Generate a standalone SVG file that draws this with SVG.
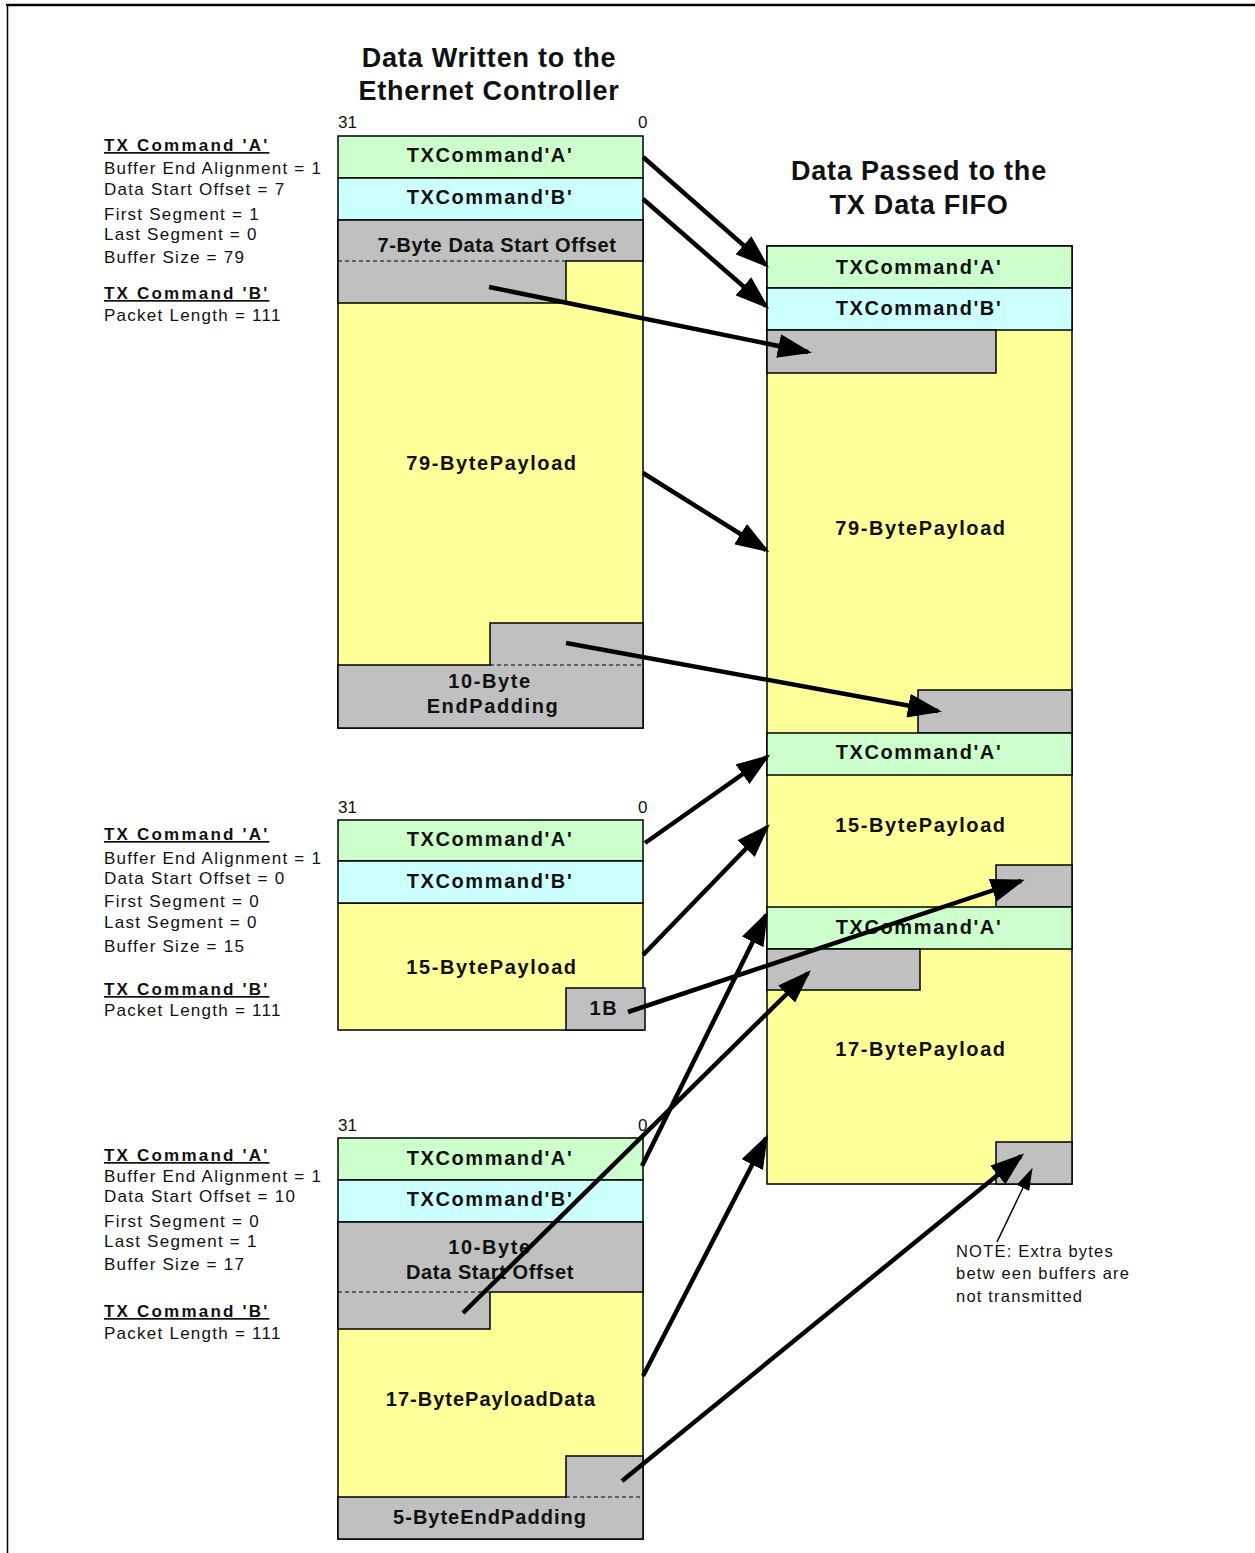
<svg xmlns="http://www.w3.org/2000/svg" width="1255" height="1553" viewBox="0 0 1255 1553">
<style>
.g{fill:#CCFFCC;stroke:#000;stroke-width:1.5}
.c{fill:#CCFFFF;stroke:#000;stroke-width:1.5}
.y{fill:#FFFF99;stroke:#000;stroke-width:1.5}
.s{fill:#C0C0C0;stroke:#000;stroke-width:1.5}
.d{stroke:#000;stroke-width:1;stroke-dasharray:4,3;fill:none}
.lbl{font-family:"Liberation Sans",Arial,sans-serif;font-weight:bold;font-size:20px;text-anchor:middle;fill:#111;letter-spacing:1.6px}
.ttl{font-family:"Liberation Sans",Arial,sans-serif;font-weight:bold;font-size:27px;text-anchor:middle;fill:#111;letter-spacing:0.8px}
.info{font-family:"Liberation Sans",Arial,sans-serif;font-size:17px;fill:#111;letter-spacing:1.25px}
.hd{font-family:"Liberation Sans",Arial,sans-serif;font-size:17px;font-weight:bold;fill:#111;text-decoration:underline;letter-spacing:2.2px}
.bit{font-family:"Liberation Sans",Arial,sans-serif;font-size:17px;fill:#111}
.note{font-family:"Liberation Sans",Arial,sans-serif;font-size:16.5px;fill:#111;letter-spacing:1.2px}
.arr{stroke:#000;stroke-width:4.5;fill:none;marker-end:url(#ah)}
</style>
<defs>
<marker id="ah" markerUnits="userSpaceOnUse" viewBox="0 0 34 24" markerWidth="34" markerHeight="24" refX="30" refY="12" orient="auto">
<path d="M0,0 L34,12 L0,24 z" fill="#000"/>
</marker>
<marker id="ahs" markerUnits="userSpaceOnUse" viewBox="0 0 22 14" markerWidth="22" markerHeight="14" refX="21" refY="7" orient="auto">
<path d="M0,0 L22,7 L0,14 z" fill="#000"/>
</marker>
</defs>
<rect width="1255" height="1553" fill="#fff"/>
<g id="frame">
<line x1="6" y1="5" x2="1255" y2="5" stroke="#000" stroke-width="2.5"/>
<line x1="7.5" y1="4" x2="7.5" y2="1553" stroke="#000" stroke-width="1.5"/>
</g>
<g id="titles">
<text class="ttl" x="489" y="67">Data Written to the</text>
<text class="ttl" x="489" y="100">Ethernet Controller</text>
<text class="ttl" x="919" y="180">Data Passed to the</text>
<text class="ttl" x="919" y="214">TX Data FIFO</text>
</g>
<g id="info1">
<text class="hd" x="104" y="151">TX Command 'A'</text>
<text class="info" x="104" y="174">Buffer End Alignment = 1</text>
<text class="info" x="104" y="195">Data Start Offset = 7</text>
<text class="info" x="104" y="220">First Segment = 1</text>
<text class="info" x="104" y="240">Last Segment = 0</text>
<text class="info" x="104" y="263">Buffer Size = 79</text>
<text class="hd" x="104" y="299">TX Command 'B'</text>
<text class="info" x="104" y="321">Packet Length = 111</text>
</g>
<g id="info2">
<text class="hd" x="104" y="840">TX Command 'A'</text>
<text class="info" x="104" y="864">Buffer End Alignment = 1</text>
<text class="info" x="104" y="884">Data Start Offset = 0</text>
<text class="info" x="104" y="907">First Segment = 0</text>
<text class="info" x="104" y="928">Last Segment = 0</text>
<text class="info" x="104" y="952">Buffer Size = 15</text>
<text class="hd" x="104" y="995">TX Command 'B'</text>
<text class="info" x="104" y="1016">Packet Length = 111</text>
</g>
<g id="info3">
<text class="hd" x="104" y="1161">TX Command 'A'</text>
<text class="info" x="104" y="1182">Buffer End Alignment = 1</text>
<text class="info" x="104" y="1202">Data Start Offset = 10</text>
<text class="info" x="104" y="1227">First Segment = 0</text>
<text class="info" x="104" y="1247">Last Segment = 1</text>
<text class="info" x="104" y="1270">Buffer Size = 17</text>
<text class="hd" x="104" y="1317">TX Command 'B'</text>
<text class="info" x="104" y="1339">Packet Length = 111</text>
</g>
<g id="buffer1">
<text class="bit" x="338" y="128">31</text>
<text class="bit" x="638" y="128">0</text>
<rect class="y" x="338" y="220" width="305" height="508"/>
<rect class="g" x="338" y="136" width="305" height="42"/>
<rect class="c" x="338" y="178" width="305" height="42"/>
<polygon class="s" points="338,220 643,220 643,261 566,261 566,303 338,303"/>
<line class="d" x1="338" y1="261" x2="566" y2="261"/>
<polygon class="s" points="490,623 643,623 643,728 338,728 338,665 490,665"/>
<line class="d" x1="490" y1="665" x2="643" y2="665"/>
<text class="lbl" x="490" y="162">TXCommand'A'</text>
<text class="lbl" x="490" y="204">TXCommand'B'</text>
<text class="lbl" x="497" y="252" style="letter-spacing:0.6px">7-Byte Data Start Offset</text>
<text class="lbl" x="492" y="470">79-BytePayload</text>
<text class="lbl" x="490" y="688">10-Byte</text>
<text class="lbl" x="493" y="713">EndPadding</text>
</g>
<g id="buffer2">
<text class="bit" x="338" y="813">31</text>
<text class="bit" x="638" y="813">0</text>
<rect class="y" x="338" y="903" width="305" height="127"/>
<rect class="g" x="338" y="820" width="305" height="41"/>
<rect class="c" x="338" y="861" width="305" height="42"/>
<rect class="s" x="566" y="988" width="79" height="42"/>
<text class="lbl" x="490" y="846">TXCommand'A'</text>
<text class="lbl" x="490" y="888">TXCommand'B'</text>
<text class="lbl" x="492" y="974">15-BytePayload</text>
<text class="lbl" x="604" y="1015">1B</text>
</g>
<g id="buffer3">
<text class="bit" x="338" y="1131">31</text>
<text class="bit" x="638" y="1131">0</text>
<rect class="y" x="338" y="1222" width="305" height="317"/>
<rect class="g" x="338" y="1138" width="305" height="42"/>
<rect class="c" x="338" y="1180" width="305" height="42"/>
<polygon class="s" points="338,1222 643,1222 643,1292 490,1292 490,1329 338,1329"/>
<line class="d" x1="338" y1="1292" x2="490" y2="1292"/>
<polygon class="s" points="566,1456 643,1456 643,1539 338,1539 338,1497 566,1497"/>
<line class="d" x1="566" y1="1497" x2="643" y2="1497"/>
<text class="lbl" x="490" y="1165">TXCommand'A'</text>
<text class="lbl" x="490" y="1206">TXCommand'B'</text>
<text class="lbl" x="490" y="1254">10-Byte</text>
<text class="lbl" x="490" y="1279" style="letter-spacing:0.6px">Data Start Offset</text>
<text class="lbl" x="491" y="1406" style="letter-spacing:1px">17-BytePayloadData</text>
<text class="lbl" x="490" y="1524" style="letter-spacing:1px">5-ByteEndPadding</text>
</g>
<g id="fifo">
<rect class="y" x="767" y="246" width="305" height="938"/>
<rect class="g" x="767" y="246" width="305" height="42"/>
<rect class="c" x="767" y="288" width="305" height="42"/>
<rect class="s" x="767" y="330" width="229" height="43"/>
<rect class="s" x="918" y="690" width="154" height="43"/>
<rect class="g" x="767" y="733" width="305" height="42"/>
<rect class="s" x="996" y="865" width="76" height="42"/>
<rect class="g" x="767" y="907" width="305" height="42"/>
<rect class="s" x="767" y="949" width="153" height="41"/>
<rect class="s" x="996" y="1142" width="76" height="42"/>
<text class="lbl" x="919" y="274">TXCommand'A'</text>
<text class="lbl" x="919" y="315">TXCommand'B'</text>
<text class="lbl" x="921" y="535">79-BytePayload</text>
<text class="lbl" x="919" y="759">TXCommand'A'</text>
<text class="lbl" x="921" y="832">15-BytePayload</text>
<text class="lbl" x="919" y="934">TXCommand'A'</text>
<text class="lbl" x="921" y="1056">17-BytePayload</text>
</g>
<g id="connectors">
<line class="arr" x1="643" y1="157" x2="766" y2="265"/>
<line class="arr" x1="643" y1="199" x2="766" y2="306"/>
<line class="arr" x1="489" y1="287" x2="808" y2="352"/>
<line class="arr" x1="643" y1="473" x2="766" y2="550"/>
<line class="arr" x1="566" y1="643" x2="938" y2="711"/>
<line class="arr" x1="645" y1="843" x2="767" y2="757"/>
<line class="arr" x1="643" y1="955" x2="767" y2="827"/>
<line class="arr" x1="628" y1="1012" x2="1021" y2="881"/>
<line class="arr" x1="642" y1="1166" x2="766" y2="915"/>
<line class="arr" x1="463" y1="1313" x2="808" y2="973"/>
<line class="arr" x1="643" y1="1376" x2="766" y2="1138"/>
<line class="arr" x1="622" y1="1481" x2="1021" y2="1156"/>
<line x1="997" y1="1242" x2="1032" y2="1169" stroke="#000" stroke-width="1.5" marker-end="url(#ahs)"/>
</g>
<g id="note">
<text class="note" x="956" y="1257">NOTE: Extra bytes</text>
<text class="note" x="956" y="1279">betw een buffers are</text>
<text class="note" x="956" y="1302">not transmitted</text>
</g>
</svg>
